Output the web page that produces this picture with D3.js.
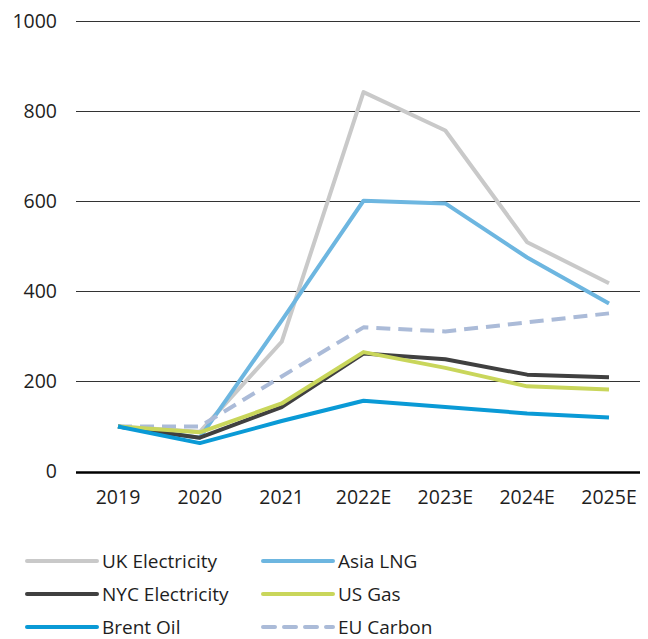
<!DOCTYPE html>
<html>
<head>
<meta charset="utf-8">
<script src="https://cdn.jsdelivr.net/npm/d3@7"></script>
<style>
  body { margin: 0; background: #fff; }
  text { font-family: "Open Sans", "Noto Sans", sans-serif; fill: #1e1e1e; }
</style>
</head>
<body>
<div id="vis-container"></div>
<script>
// categories and series (index 2019 = 100)
const years = ["2019", "2020", "2021", "2022E", "2023E", "2024E", "2025E"];
const yTicks = [0, 200, 400, 600, 800, 1000];

const ukElectricity  = [100, 88, 288, 842, 757, 509, 418];
const asiaLng        = [100, 75, 335, 601, 595, 475, 373];
const nycElectricity = [100, 75, 143, 262, 249, 215, 209];
const usGas          = [100, 87, 151, 265, 230, 189, 182];
const brentOil       = [100, 63, 112, 157, 143, 129, 120];
const euCarbon       = [100, 100, 211, 320, 311, 331, 351];

const seriesNames  = ["UK Electricity", "Asia LNG", "NYC Electricity", "US Gas", "Brent Oil", "EU Carbon"];
const seriesValues = [ukElectricity, asiaLng, nycElectricity, usGas, brentOil, euCarbon];
const seriesColors = ["#c9c9c9", "#6db6e0", "#404040", "#c9d65b", "#0a9ad6", "#abbbd8"];
const seriesDashed = [false, false, false, false, false, true];

// draw order (back to front)
const drawOrder = [0, 1, 5, 2, 3, 4];

let width = 648, height = 639;

let svg = d3.select("#vis-container")
  .append("svg")
  .attr("width", width)
  .attr("height", height);

let x = d3.scalePoint()
  .domain(years)
  .range([118, 609]);

let y = d3.scaleLinear()
  .domain([0, 1000])
  .range([471.5, 21]);

// gridlines
svg.append("g")
  .selectAll("line")
  .data(yTicks)
  .enter()
  .append("line")
    .attr("x1", 76)
    .attr("x2", 640)
    .attr("y1", d => Math.round(y(d)) + 0.5)
    .attr("y2", d => Math.round(y(d)) + 0.5)
    .attr("stroke", d => d === 0 ? "#000" : "#333")
    .attr("stroke-width", d => d === 0 ? 2.5 : 1);

// y labels
svg.append("g")
  .selectAll("text")
  .data(yTicks)
  .enter()
  .append("text")
    .attr("x", 57)
    .attr("y", d => y(d))
    .attr("dy", "0.35em")
    .attr("text-anchor", "end")
    .attr("font-size", "19.5px")
    .text(d => d);

// x labels
svg.append("g")
  .selectAll("text")
  .data(years)
  .enter()
  .append("text")
    .attr("x", d => x(d))
    .attr("y", 504)
    .attr("text-anchor", "middle")
    .attr("font-size", "19.5px")
    .text(d => d);

let line = d3.line()
  .x((d, i) => x(years[i]))
  .y(d => y(d));

svg.append("g")
  .selectAll("path")
  .data(drawOrder)
  .enter()
  .append("path")
    .attr("d", i => line(seriesValues[i]))
    .attr("fill", "none")
    .attr("stroke", i => seriesColors[i])
    .attr("stroke-width", 4)
    .attr("stroke-linejoin", "round")
    .attr("stroke-dasharray", i => seriesDashed[i] ? "14,8" : null);

// legend
let legend = svg.append("g")
  .selectAll("g")
  .data(seriesNames)
  .enter()
  .append("g")
    .attr("transform", (d, i) => `translate(${i % 2 === 0 ? 27 : 263},${561 + Math.floor(i / 2) * 33})`);

legend.append("line")
  .attr("x1", 0)
  .attr("x2", 70)
  .attr("stroke", (d, i) => seriesColors[i])
  .attr("stroke-width", 4)
  .attr("stroke-linecap", "round")
  .attr("stroke-dasharray", (d, i) => seriesDashed[i] ? "12,9" : null);

legend.append("text")
  .attr("x", 75)
  .attr("dy", "0.35em")
  .attr("font-size", "19px")
  .text(d => d);
</script>
</body>
</html>
